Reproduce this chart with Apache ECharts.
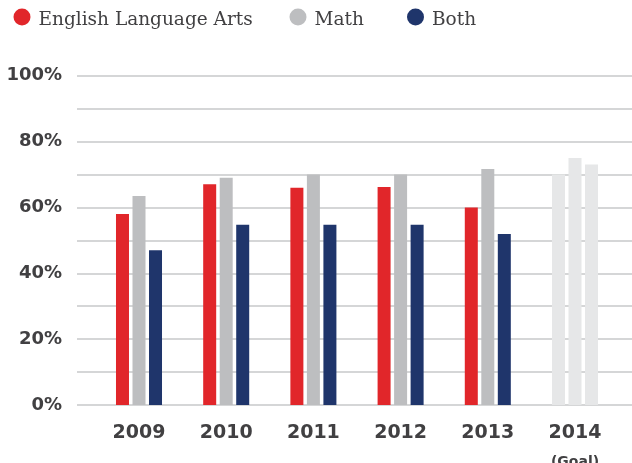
<!DOCTYPE html>
<html><head><meta charset="utf-8">
<script src="https://cdn.jsdelivr.net/npm/echarts@6/dist/echarts.min.js"></script>
<style>html,body{margin:0;padding:0;background:#fff}#c{width:632px;height:463px}</style>
</head><body><div id="c"></div>
<script>
var years = ['2009', '2010', '2011', '2012', '2013', '2014'];
var goalYear = '2014';
var ela = [58, 67, 66, 66.2, 60, 70];
var math = [63.5, 69, 70, 70, 71.7, 75];
var both = [47, 54.7, 54.7, 54.7, 51.9, 73];
var yTicks = [0, 20, 40, 60, 80, 100];

var colors = { ela: '#e1262a', math: '#bdbec0', both: '#1f356b', goal: '#e6e7e8' };

function mk(vals) {
  return vals.map(function (v, i) {
    return years[i] === goalYear ? { value: v, itemStyle: { color: colors.goal } } : { value: v };
  });
}
function leg(name, left) {
  return { data: [name], left: left, top: 3.5, icon: 'circle', itemWidth: 17, itemHeight: 17,
    formatter: '{t|{name}}',
    textStyle: { rich: { t: { fontFamily: 'DejaVu Serif', fontSize: 18.5, color: '#414042', padding: [6, 0, 0, 3] } } },
    selectedMode: false };
}
var chart = echarts.init(document.getElementById('c'), null, { renderer: 'canvas' });
chart.setOption({
  animation: false,
  legend: [leg('English Language Arts', 8.5), leg('Math', 284.5), leg('Both', 402)],
  grid: [
    { left: 77, right: 0, top: 75.7, bottom: 58, containLabel: false, outerBoundsMode: 'none' },
    { left: 95.4, right: 13.4, top: 75.7, bottom: 58, containLabel: false, outerBoundsMode: 'none' }
  ],
  xAxis: [
    { gridIndex: 0, type: 'category', data: years, show: false },
    { gridIndex: 1, type: 'category', data: years,
      axisLine: { show: false }, axisTick: { show: false },
      axisLabel: {
        margin: 17,
        formatter: function (v) { return v === goalYear ? '{a|' + v + '}\n{b|(Goal)}' : '{a|' + v + '}'; },
        rich: {
          a: { fontFamily: 'DejaVu Sans', fontWeight: 'bold', fontSize: 19, color: '#414042', lineHeight: 22 },
          b: { fontFamily: 'DejaVu Sans', fontWeight: 'bold', fontSize: 14, color: '#414042', lineHeight: 36 }
        }
      } }
  ],
  yAxis: [
    { gridIndex: 0, type: 'value', min: 0, max: 100, interval: 10,
      axisLine: { show: false }, axisTick: { show: false },
      splitLine: { lineStyle: { color: '#c7c8ca', width: 1.5 } },
      axisLabel: {
        margin: 15,
        fontFamily: 'DejaVu Sans', fontWeight: 'bold', fontSize: 18, color: '#414042',
        formatter: function (v) { return yTicks.indexOf(v) >= 0 ? v + '%' : ''; }
      } },
    { gridIndex: 1, type: 'value', min: 0, max: 100, interval: 10, show: false, splitLine: { show: false } }
  ],
  series: [
    { name: 'English Language Arts', type: 'bar', xAxisIndex: 1, yAxisIndex: 1, data: mk(ela), barWidth: 13, barGap: '27%', itemStyle: { color: colors.ela } },
    { name: 'Math', type: 'bar', xAxisIndex: 1, yAxisIndex: 1, data: mk(math), barWidth: 13, barGap: '27%', itemStyle: { color: colors.math } },
    { name: 'Both', type: 'bar', xAxisIndex: 1, yAxisIndex: 1, data: mk(both), barWidth: 13, barGap: '27%', itemStyle: { color: colors.both } }
  ]
});
</script></body></html>
